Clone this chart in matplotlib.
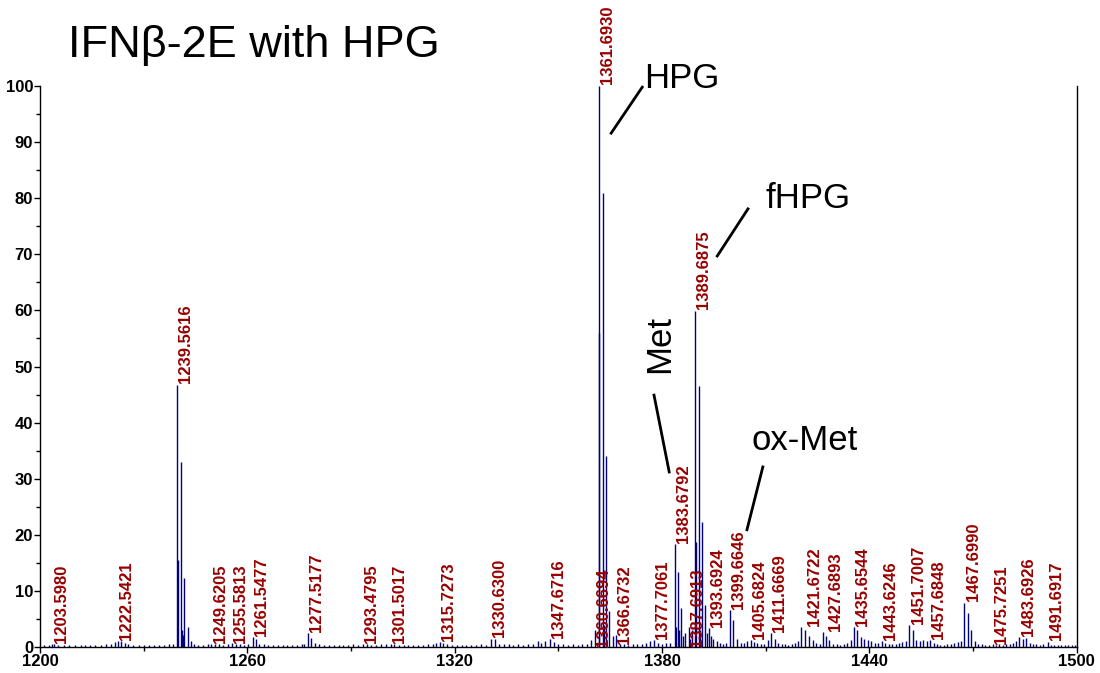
import matplotlib
matplotlib.use("Agg")
import matplotlib.pyplot as plt
from matplotlib import font_manager
from matplotlib.ticker import MultipleLocator

# main peaks (m/z, relative intensity)
peak_mz = [1203.60, 1222.54,
           1239.56, 1239.85, 1240.72, 1241.00, 1241.50, 1241.76, 1242.74, 1243.70,
           1249.62, 1255.58, 1261.55, 1262.50, 1277.52, 1278.50, 1279.50,
           1293.48, 1301.50, 1315.73, 1330.63, 1331.60, 1347.67,
           1360.67, 1361.69, 1361.90, 1362.85, 1363.20, 1363.83, 1364.80, 1365.80, 1366.67,
           1377.71,
           1383.68, 1383.95, 1384.60, 1385.00, 1385.60, 1386.10, 1386.75, 1387.69, 1388.20,
           1388.70, 1389.69, 1389.90, 1390.70, 1391.00, 1391.67, 1392.50, 1393.00, 1393.69,
           1394.20, 1394.80,
           1399.66, 1400.60, 1401.80, 1405.68, 1411.67, 1412.60, 1420.30, 1421.30, 1422.70,
           1426.50, 1427.40, 1435.50, 1436.50, 1443.62, 1451.60, 1452.60, 1453.60, 1457.68,
           1467.50, 1468.50, 1469.50, 1470.60, 1475.73, 1483.40, 1484.40, 1485.40, 1491.69]
peak_int = [0.6, 1.1,
            46.7, 15.5, 33.0, 3.0, 2.1, 12.3, 3.6, 1.0,
            0.6, 0.7, 1.8, 1.5, 2.5, 1.6, 0.8,
            0.6, 0.6, 0.9, 1.5, 1.4, 1.4,
            3.0, 100.0, 56.0, 81.0, 4.0, 34.0, 6.5, 2.0, 2.2,
            1.2,
            18.4, 3.5, 13.4, 3.0, 6.9, 2.0, 2.5, 3.5, 1.5,
            3.0, 59.9, 18.8, 46.5, 3.0, 22.3, 7.5, 2.5, 3.4,
            2.0, 1.5,
            6.6, 4.8, 1.5, 1.3, 2.5, 1.5, 3.6, 3.0, 2.0,
            2.7, 2.0, 3.6, 3.0, 1.0, 3.9, 3.0, 1.2, 1.2,
            7.9, 6.0, 3.0, 1.0, 0.5, 1.8, 1.5, 1.6, 0.9]

# baseline noise
noise_mz = [1201.2, 1202.5, 1204.0, 1205.3, 1206.9, 1208.4, 1210.2, 1211.8, 1213.1, 1214.6,
            1216.0, 1217.5, 1219.0, 1220.4, 1221.6, 1223.5, 1224.5, 1225.6, 1227.0, 1228.5,
            1230.0, 1231.6, 1233.1, 1234.5, 1236.0, 1237.4, 1238.6, 1244.6, 1245.8, 1247.1,
            1248.5, 1250.6, 1251.8, 1253.0, 1254.3, 1256.6, 1257.8, 1259.0, 1260.3, 1263.5,
            1264.8, 1266.0, 1267.4, 1268.8, 1270.2, 1271.6, 1273.0, 1274.4, 1275.8, 1276.5,
            1280.8, 1282.2, 1283.6, 1285.0, 1286.4, 1287.8, 1289.2, 1290.6, 1292.0, 1294.5,
            1295.8, 1297.2, 1298.6, 1300.0, 1302.5, 1303.8, 1305.2, 1306.6, 1308.0, 1309.4,
            1310.8, 1312.2, 1313.6, 1314.7, 1316.7, 1317.8, 1319.2, 1320.6, 1322.0, 1323.4,
            1324.8, 1326.2, 1327.6, 1329.0, 1332.8, 1334.2, 1335.6, 1337.0, 1338.4, 1339.8,
            1341.2, 1342.6, 1344.0, 1345.0, 1346.2, 1348.7, 1350.0, 1351.4, 1352.8, 1354.2,
            1355.6, 1357.0, 1358.4, 1359.6, 1367.8, 1369.0, 1370.3, 1371.6, 1372.9, 1374.2,
            1375.5, 1376.6, 1378.8, 1380.0, 1381.2, 1382.4, 1395.8, 1396.8, 1397.8, 1398.6,
            1402.8, 1403.8, 1404.6, 1406.6, 1407.6, 1408.6, 1409.6, 1410.6, 1413.6, 1414.6,
            1415.6, 1416.6, 1417.6, 1418.6, 1419.4, 1423.6, 1424.6, 1425.6, 1428.4, 1429.6,
            1430.6, 1431.6, 1432.6, 1433.6, 1434.6, 1437.6, 1438.6, 1439.6, 1440.6, 1441.6,
            1442.6, 1444.6, 1445.6, 1446.6, 1447.6, 1448.6, 1449.6, 1450.6, 1454.6, 1455.6,
            1456.6, 1458.6, 1459.6, 1460.6, 1461.6, 1462.6, 1463.6, 1464.6, 1465.6, 1466.6,
            1471.6, 1472.6, 1473.6, 1474.6, 1476.6, 1477.6, 1478.6, 1479.6, 1480.6, 1481.6,
            1482.4, 1486.4, 1487.4, 1488.4, 1489.4, 1490.4, 1492.6, 1493.6, 1494.6, 1495.6,
            1496.6, 1497.6, 1498.6, 1499.6]
noise_int = [0.4, 0.3, 0.5, 0.3, 0.4, 0.3, 0.4, 0.3, 0.4, 0.3,
             0.4, 0.4, 0.5, 0.6, 0.9, 1.0, 0.7, 0.5, 0.4, 0.3,
             0.3, 0.4, 0.3, 0.4, 0.3, 0.5, 0.6, 0.5, 0.4, 0.4,
             0.5, 0.6, 0.5, 0.4, 0.5, 0.6, 0.5, 0.4, 0.5, 0.6,
             0.5, 0.4, 0.3, 0.4, 0.3, 0.4, 0.3, 0.4, 0.5, 0.6,
             0.5, 0.4, 0.4, 0.3, 0.4, 0.3, 0.4, 0.5, 0.4, 0.5,
             0.4, 0.4, 0.5, 0.6, 0.5, 0.4, 0.3, 0.4, 0.3, 0.4,
             0.4, 0.5, 0.6, 0.8, 0.7, 0.5, 0.4, 0.4, 0.3, 0.4,
             0.3, 0.4, 0.5, 0.4, 0.5, 0.6, 0.5, 0.4, 0.5, 0.4,
             0.5, 0.6, 1.0, 0.8, 1.0, 0.9, 0.6, 0.5, 0.4, 0.5,
             0.4, 0.5, 0.6, 1.2, 0.6, 0.5, 0.4, 0.5, 0.6, 0.5,
             0.7, 1.0, 0.8, 0.6, 0.7, 0.8, 1.0, 0.8, 0.6, 0.8,
             0.7, 0.8, 1.0, 0.9, 0.7, 0.5, 0.6, 1.2, 0.8, 0.6,
             0.5, 0.4, 0.5, 0.7, 1.0, 1.2, 0.8, 0.6, 1.2, 0.6,
             0.5, 0.4, 0.5, 0.7, 1.2, 1.8, 1.5, 1.3, 1.0, 0.8,
             0.7, 0.8, 0.6, 0.5, 0.6, 0.7, 0.9, 1.0, 1.0, 1.2,
             1.0, 0.7, 0.5, 0.4, 0.4, 0.5, 0.6, 0.7, 0.9, 1.0,
             0.6, 0.5, 0.4, 0.4, 0.4, 0.5, 0.4, 0.5, 0.6, 0.8,
             1.0, 0.8, 0.6, 0.5, 0.4, 0.5, 0.4, 0.4, 0.3, 0.4,
             0.3, 0.4, 0.3, 0.3]

# peak labels and where each label starts (bottom)
label_mz = [1203.5980, 1222.5421, 1239.5616, 1249.6205, 1255.5813, 1261.5477, 1277.5177,
            1293.4795, 1301.5017, 1315.7273, 1330.6300, 1347.6716, 1360.6694, 1361.6930,
            1366.6732, 1377.7061, 1383.6792, 1387.6913, 1389.6875, 1393.6924, 1399.6646,
            1405.6824, 1411.6669, 1421.6722, 1427.6893, 1435.6544, 1443.6246, 1451.7007,
            1457.6848, 1467.6990, 1475.7251, 1483.6926, 1491.6917]
label_y = [0.7, 1.2, 47.0, 0.7, 0.7, 2.0, 2.7,
           0.8, 0.7, 1.0, 1.7, 1.6, 0.0, 100.3,
           0.6, 1.4, 18.6, 0.0, 60.2, 3.5, 6.8,
           1.5, 2.6, 3.8, 2.9, 3.7, 1.2, 4.1,
           1.4, 8.2, 0.6, 2.0, 1.2]

names = {f.name for f in font_manager.fontManager.ttflist}
if "Liberation Sans Narrow" in names:
    lab_font, lab_size = "Liberation Sans Narrow", 15
else:
    lab_font, lab_size = "Liberation Sans", 12

plt.rcParams['font.family'] = ['Liberation Sans', 'DejaVu Sans']

fig = plt.figure(figsize=(11, 6.73), dpi=100)
ax = fig.add_axes([0.0364, 0.0386, 0.9423, 0.8336])

ax.vlines(noise_mz, 0, noise_int, color='#000080', lw=1)
ax.vlines(peak_mz, 0, peak_int, color='#000080', lw=1)

for mz, y in zip(label_mz, label_y):
    ax.text(mz + 0.3, y, f"{mz:.4f}", rotation=90, ha='left', va='bottom',
            color='#990000', fontsize=lab_size, fontweight='bold', family=lab_font,
            clip_on=False)

ax.set_xlim(1200, 1500)
ax.set_ylim(0, 100)
ax.xaxis.set_major_locator(MultipleLocator(60))
ax.xaxis.set_minor_locator(MultipleLocator(30))
ax.yaxis.set_major_locator(MultipleLocator(10))
ax.yaxis.set_minor_locator(MultipleLocator(5))
ax.tick_params(which='major', length=4, width=1, direction='out', labelsize=12, pad=1)
ax.tick_params(which='minor', length=3, width=1, direction='out')
for t in ax.get_xticklabels() + ax.get_yticklabels():
    t.set_fontweight('bold')
ax.spines['top'].set_visible(False)
for s in ['left', 'bottom', 'right']:
    ax.spines[s].set_linewidth(1)

# annotations
ann = dict(color='black', lw=2, clip_on=False)
ax.plot([1365.3, 1374.3], [91.6, 99.8], **ann)
ax.text(1374.9, 99.6, "HPG", fontsize=25, va='baseline', ha='left', clip_on=False)
ax.plot([1396.0, 1404.9], [69.7, 78.1], **ann)
ax.text(1410.1, 78.3, "fHPG", fontsize=25, va='baseline', ha='left')
ax.plot([1377.7, 1382.1], [44.9, 31.2], **ann)
ax.text(1379.2, 48.8, "Met", fontsize=25, rotation=90, va='bottom', ha='center')
ax.plot([1404.6, 1409.2], [20.9, 32.1], **ann)
ax.text(1405.8, 35.1, "ox-Met", fontsize=25, va='baseline', ha='left')

fig.text(68 / 1100, 1 - 57 / 673, "IFNβ-2E with HPG", fontsize=32.5,
         va='baseline', ha='left')

fig.savefig("out.png", dpi=100)
